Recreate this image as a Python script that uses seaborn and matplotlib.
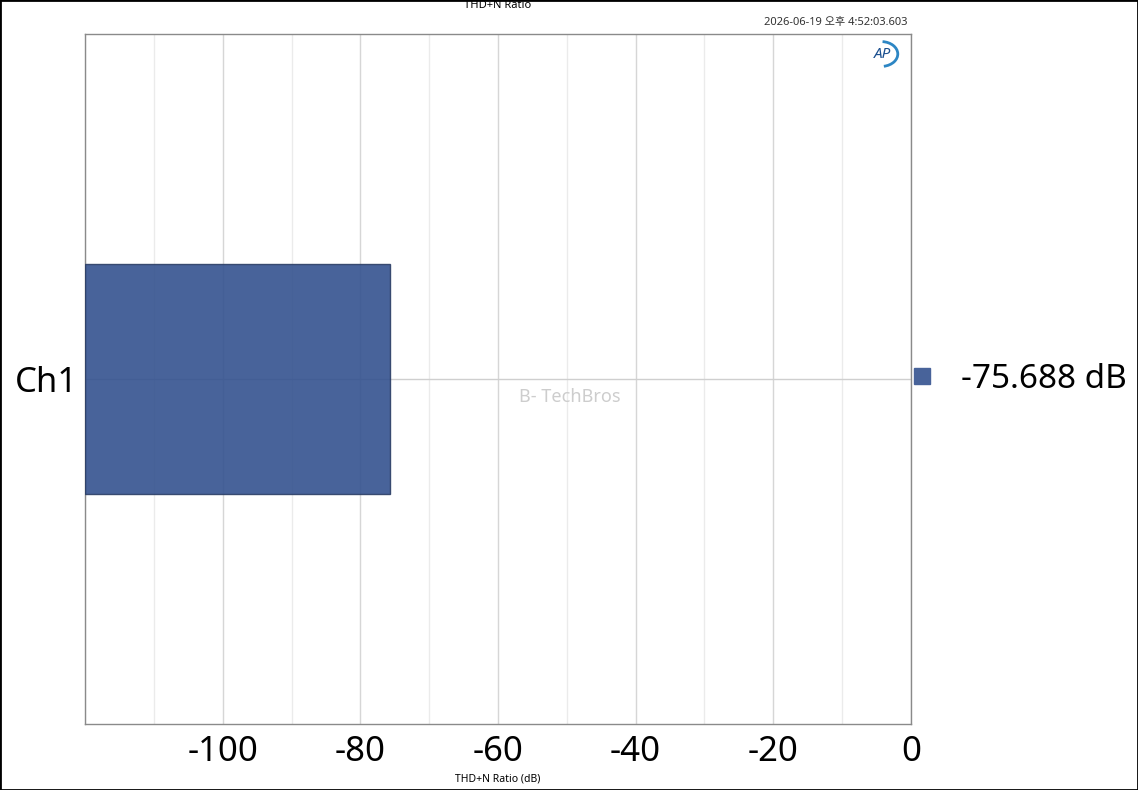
import matplotlib
matplotlib.use("Agg")
import matplotlib.pyplot as plt
import matplotlib.patches as mpatches
from matplotlib.lines import Line2D
from matplotlib.ticker import MultipleLocator
import pandas as pd
import seaborn as sns

# data
channels = ["Ch1"]
thdn_db = [-75.688]
x_min = -120
x_max = 0
major_ticks = [-100, -80, -60, -40, -20, 0]

title = "THD+N Ratio"
timestamp = "2026-06-19 오후 4:52:03.603"
x_label = "THD+N Ratio (dB)"

bar_color = "#34528f"
legend_color = "#48639a"

sns.set_theme(style="white")
plt.rcParams["font.family"] = ["Noto Sans", "Noto Sans CJK KR", "DejaVu Sans"]
plt.rcParams["axes.unicode_minus"] = False
plt.rcParams["text.color"] = "black"

df = pd.DataFrame({"channel": channels, "thdn": thdn_db})

W, H = 1138, 790
fig = plt.figure(figsize=(W / 100, H / 100), dpi=100)
ax = fig.add_axes([85 / W, 1 - 724 / H, (911 - 85) / W, (724 - 34) / H])

sns.barplot(data=df, x="thdn", y="channel", orient="h", color=bar_color,
            saturation=1, width=1.0, edgecolor="#2c3f66", linewidth=1,
            alpha=0.9, ax=ax, zorder=3)

# AP draws bars from the left edge of the scale, not from zero
for p, v in zip(ax.patches, thdn_db):
    p.set_x(x_min)
    p.set_width(v - x_min)

ax.set_xlim(x_min, x_max)
ax.set_ylim(1.5, -1.5)
ax.set_xticks(major_ticks)
ax.xaxis.set_minor_locator(MultipleLocator(10))

ax.grid(which="minor", axis="x", color="#ebebeb", linewidth=1, zorder=0)
ax.grid(which="major", axis="x", color="#d6d6d6", linewidth=1, zorder=0)
ax.grid(which="major", axis="y", color="#cfcfcf", linewidth=1, zorder=0)
ax.set_axisbelow(True)

ax.tick_params(axis="both", which="both", length=0, labelsize=25, colors="black")
ax.tick_params(axis="x", pad=8)
ax.tick_params(axis="y", pad=5)
ax.set_xlabel("")
ax.set_ylabel("")

for s in ax.spines.values():
    s.set_color("#8a8a8a")
    s.set_linewidth(1)

# texts around the plot
fig.text(498 / W, 1 - 5 / H, title, ha="center", va="center", fontsize=8)
fig.text(907 / W, 1 - 22 / H, timestamp, ha="right", va="center", fontsize=8, color="#333333")
fig.text(498 / W, 1 - 779 / H, x_label, ha="center", va="center", fontsize=7.5)

# legend with the reading
handle = Line2D([], [], marker="s", linestyle="none", markersize=11.5,
                color=legend_color)
fig.legend([handle], [f"{thdn_db[0]:.3f} dB"], loc="center left",
           bbox_to_anchor=(914 / W, 1 - 379 / H), frameon=False, fontsize=24,
           handlelength=0.5, handletextpad=0.9, borderaxespad=0, borderpad=0,
           labelcolor="black")

# AP logo
ax.text(0.966, 0.971, "AP", transform=ax.transAxes, ha="center", va="center",
        fontsize=11, fontweight="heavy", fontstyle="italic", color="#1a4f8f")
ax.add_patch(mpatches.Arc((0.964, 0.971), 0.04, 0.036, theta1=-80, theta2=85,
                          transform=ax.transAxes, color="#2d86c4", lw=2))

# watermark
fig.text(570 / W, 1 - 397 / H, "B- TechBros", ha="center", va="center",
         fontsize=13, fontweight="bold", color="#cdcdcd")

fig.add_artist(mpatches.Rectangle((0, 0), 1, 1, transform=fig.transFigure,
                                  fill=False, edgecolor="black", linewidth=2))

fig.savefig("out.png", dpi=100)
